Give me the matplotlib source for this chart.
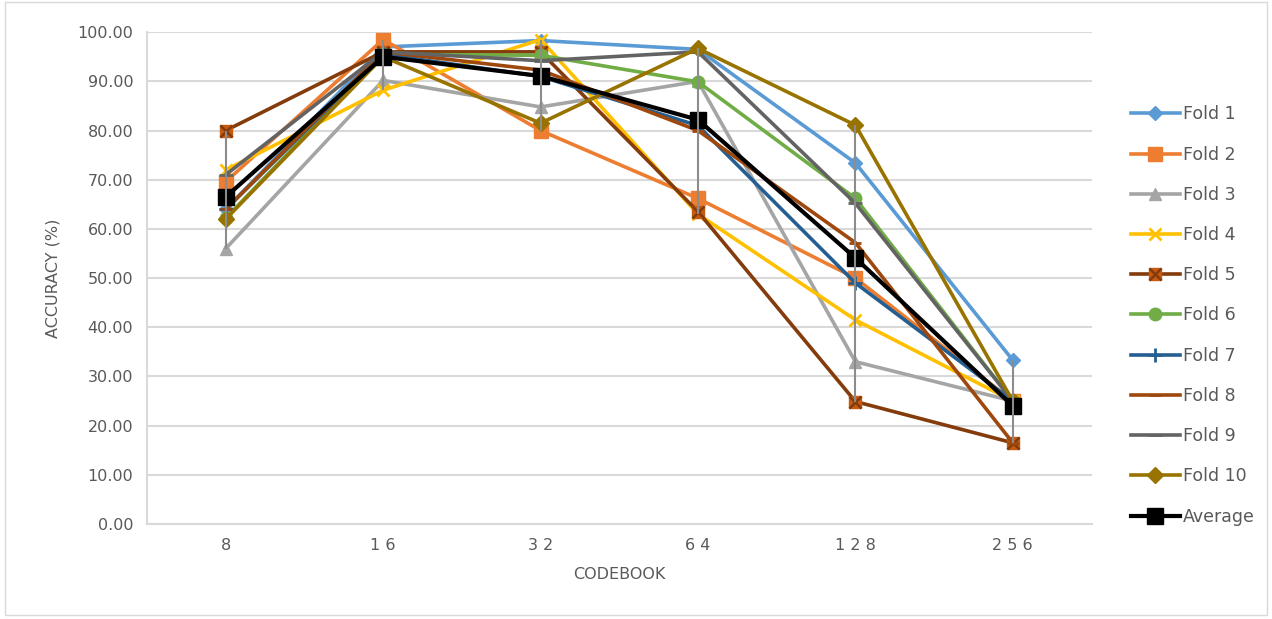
import matplotlib
matplotlib.use("Agg")
import matplotlib.pyplot as plt
import numpy as np
from matplotlib.legend_handler import HandlerTuple
from matplotlib.patches import Rectangle

categories = ["8", "16", "32", "64", "128", "256"]
tick_labels = ["8", "1 6", "3 2", "6 4", "1 2 8", "2 5 6"]
series_names = ["Fold 1", "Fold 2", "Fold 3", "Fold 4", "Fold 5", "Fold 6",
                "Fold 7", "Fold 8", "Fold 9", "Fold 10", "Average"]

fold1 = [64.0, 97.0, 98.3, 96.5, 73.4, 33.3]
fold2 = [69.6, 98.5, 80.0, 66.2, 50.0, 25.0]
fold3 = [56.0, 90.2, 84.8, 90.0, 33.0, 25.0]
fold4 = [72.0, 88.2, 98.5, 63.0, 41.5, 25.0]
fold5 = [80.0, 96.0, 96.0, 63.5, 24.9, 16.5]
fold6 = [62.2, 95.5, 95.3, 89.9, 66.2, 25.0]
fold7 = [64.0, 95.5, 91.0, 81.0, 49.0, 25.0]
fold8 = [64.0, 96.0, 92.3, 80.0, 57.2, 16.5]
fold9 = [71.0, 96.0, 94.2, 96.0, 65.2, 25.0]
fold10 = [62.0, 95.0, 81.5, 96.7, 81.1, 25.0]
average = [66.5, 95.0, 91.1, 82.2, 54.1, 24.0]

series = [fold1, fold2, fold3, fold4, fold5, fold6, fold7, fold8, fold9, fold10, average]
colors = ["#5B9BD5", "#ED7D31", "#A5A5A5", "#FFC000", "#843C0C", "#70AD47",
          "#255E91", "#9E480E", "#636363", "#997300", "#000000"]
markers = ["D", "s", "^", "x", "s", "o", "+", "_", "_", "D", "s"]
msizes = [7, 10, 9, 9, 9, 9, 10, 9, 10, 8, 11]

TEXT = "#595959"
fig = plt.figure(figsize=(12.72, 6.19), dpi=100)
ax = fig.add_axes([0.1156, 0.1535, 0.7425, 0.7945])
x = np.arange(len(categories))

handles = []
for i, (vals, name) in enumerate(zip(series, series_names)):
    c = colors[i]
    m = markers[i]
    if i == 4:
        l1, = ax.plot(x, vals, color=c, lw=2.6, marker="s", ms=9,
                      mfc="#C55A11", mec="#C55A11", zorder=3 + i * 0.1)
        l2, = ax.plot(x, vals, ls="none", marker="x", ms=9, mew=1.8,
                      color="#843C0C", zorder=3 + i * 0.1)
        handles.append((l1, l2))
        continue
    mew = 2.0 if m in ("x", "+", "_") else 1.0
    lw = 3.0 if i == 10 else 2.6
    l, = ax.plot(x, vals, color=c, lw=lw, marker=m, ms=msizes[i], mew=mew,
                 mfc=c, mec=c, zorder=3 + i * 0.1)
    handles.append(l)

# high-low lines
arr = np.array(series)
ax.vlines(x, arr.min(axis=0), arr.max(axis=0), color="#8C8C8C", lw=1.5, zorder=10)

ax.set_xlim(-0.5, len(categories) - 0.5)
ax.set_ylim(0, 100)
ax.set_yticks(np.arange(0, 101, 10))
ax.set_yticklabels([f"{v:.2f}" for v in np.arange(0, 101, 10)])
ax.set_xticks(x)
ax.set_xticklabels(tick_labels)
ax.tick_params(axis="both", length=0, colors=TEXT, labelsize=11.5, pad=10)
ax.grid(axis="y", color="#D9D9D9", lw=1.5, zorder=0)
ax.set_axisbelow(True)
for s in ["top", "right"]:
    ax.spines[s].set_visible(False)
ax.spines["left"].set_color("#D9D9D9")
ax.spines["left"].set_linewidth(1.5)
ax.spines["bottom"].set_color("#D9D9D9")
ax.spines["bottom"].set_linewidth(1.5)

ax.set_ylabel("ACCURACY (%)", color=TEXT, fontsize=11.5, labelpad=12)
ax.set_xlabel("CODEBOOK", color=TEXT, fontsize=11.5, labelpad=10)

leg = fig.legend(handles, series_names, loc="upper left", bbox_to_anchor=(0.877, 0.855),
                 frameon=False, fontsize=12.5, handlelength=2.8, labelspacing=1.28,
                 handletextpad=0.2, handler_map={tuple: HandlerTuple(ndivide=1, pad=0)})
for t in leg.get_texts():
    t.set_color(TEXT)

fig.patches.append(Rectangle((0.004, 0.006), 0.992, 0.99, transform=fig.transFigure,
                             fill=False, ec="#D9D9D9", lw=1.0))

fig.savefig("out.png", dpi=100, facecolor="white")
